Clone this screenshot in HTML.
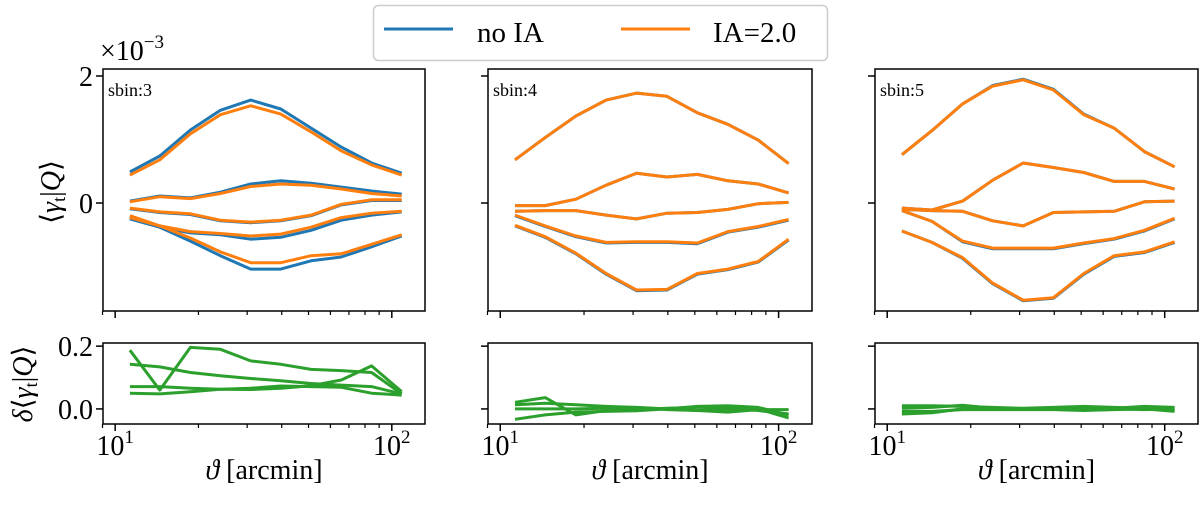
<!DOCTYPE html>
<html><head><meta charset="utf-8"><style>
html,body{margin:0;padding:0;background:#fff;}
svg{display:block;font-family:"Liberation Serif",serif;}
</style></head><body>
<svg id="fig" width="1200" height="513" viewBox="0 0 1200 513" xmlns="http://www.w3.org/2000/svg">
<g id="legend">
<rect x="373.5" y="5.5" width="454" height="55" rx="5" fill="#fff" stroke="#ccc" stroke-width="1.5"/>
<line x1="384" y1="29" x2="453" y2="29" stroke="#1f77b4" stroke-width="3"/>
<text x="477" y="42" font-size="29">no IA</text>
<line x1="621" y1="29" x2="690" y2="29" stroke="#ff7f0e" stroke-width="3"/>
<text x="713" y="42" font-size="29">IA=2.0</text>
</g>
<text x="100" y="60" font-size="28">×10<tspan dy="-12" font-size="19">−3</tspan></text>
<text transform="translate(60,192) rotate(-90)" text-anchor="middle" font-size="28">⟨<tspan font-style="italic">γ</tspan><tspan font-size="18" dy="5">t</tspan><tspan dy="-5">|</tspan><tspan font-style="italic">Q</tspan>⟩</text>
<text transform="translate(32,384) rotate(-90)" text-anchor="middle" font-size="28"><tspan font-style="italic">δ</tspan>⟨<tspan font-style="italic">γ</tspan><tspan font-size="18" dy="5">t</tspan><tspan dy="-5">|</tspan><tspan font-style="italic">Q</tspan>⟩</text>
</svg>
<script>
const thetas = [11.3,14.5,18.7,24.0,30.9,39.7,51.1,65.7,84.5,108.6];
const binLabels = ["sbin:3","sbin:4","sbin:5"];
const mainTicks = [2,0];
const mainTickLabels = ["2","0"];
const ratioTicks = [0.2,0.0];
const ratioTickLabels = ["0.2","0.0"];
// sbin 3 (units 1e-3)
const noIA3 = [
 [0.49,0.74,1.15,1.46,1.62,1.48,1.18,0.88,0.63,0.47],
 [0.03,0.11,0.08,0.17,0.30,0.35,0.31,0.25,0.19,0.14],
 [-0.09,-0.15,-0.18,-0.28,-0.31,-0.28,-0.20,-0.03,0.04,0.04],
 [-0.22,-0.38,-0.47,-0.50,-0.57,-0.54,-0.43,-0.27,-0.19,-0.14],
 [-0.25,-0.38,-0.60,-0.83,-1.04,-1.04,-0.91,-0.85,-0.69,-0.52]];
const ia3 = [
 [0.44,0.68,1.09,1.39,1.53,1.40,1.12,0.82,0.60,0.44],
 [0.02,0.10,0.07,0.15,0.26,0.30,0.28,0.22,0.15,0.11],
 [-0.08,-0.14,-0.17,-0.27,-0.30,-0.27,-0.19,-0.02,0.05,0.05],
 [-0.20,-0.36,-0.45,-0.48,-0.52,-0.49,-0.38,-0.23,-0.16,-0.13],
 [-0.23,-0.36,-0.55,-0.77,-0.94,-0.94,-0.83,-0.80,-0.65,-0.50]];
const noIA4 = [
 [0.68,1.03,1.37,1.62,1.73,1.68,1.42,1.24,0.99,0.62],
 [-0.04,-0.04,0.06,0.28,0.47,0.41,0.45,0.35,0.30,0.16],
 [-0.13,-0.12,-0.12,-0.19,-0.25,-0.16,-0.15,-0.10,-0.01,0.01],
 [-0.20,-0.37,-0.53,-0.63,-0.62,-0.62,-0.64,-0.46,-0.38,-0.27],
 [-0.36,-0.54,-0.80,-1.12,-1.38,-1.37,-1.12,-1.05,-0.93,-0.58]];
const ia4 = [
 [0.68,1.03,1.37,1.62,1.73,1.68,1.42,1.24,0.99,0.62],
 [-0.04,-0.04,0.06,0.28,0.47,0.41,0.45,0.35,0.30,0.16],
 [-0.13,-0.12,-0.12,-0.19,-0.25,-0.16,-0.15,-0.10,-0.01,0.01],
 [-0.19,-0.36,-0.52,-0.62,-0.61,-0.61,-0.63,-0.45,-0.37,-0.26],
 [-0.35,-0.53,-0.79,-1.11,-1.37,-1.36,-1.11,-1.04,-0.92,-0.57]];
const noIA5 = [
 [0.76,1.14,1.56,1.85,1.95,1.79,1.40,1.18,0.81,0.57],
 [-0.08,-0.11,0.03,0.36,0.63,0.56,0.48,0.34,0.34,0.22],
 [-0.10,-0.12,-0.13,-0.28,-0.36,-0.15,-0.14,-0.13,0.02,0.03],
 [-0.12,-0.29,-0.61,-0.72,-0.72,-0.72,-0.64,-0.57,-0.44,-0.25],
 [-0.44,-0.62,-0.87,-1.27,-1.54,-1.50,-1.12,-0.84,-0.78,-0.62]];
const ia5 = [
 [0.76,1.14,1.56,1.84,1.94,1.78,1.39,1.18,0.81,0.57],
 [-0.08,-0.11,0.03,0.36,0.63,0.56,0.48,0.34,0.34,0.22],
 [-0.10,-0.12,-0.13,-0.28,-0.36,-0.15,-0.14,-0.13,0.02,0.03],
 [-0.12,-0.29,-0.60,-0.71,-0.71,-0.71,-0.63,-0.56,-0.43,-0.24],
 [-0.44,-0.62,-0.86,-1.26,-1.53,-1.49,-1.11,-0.83,-0.77,-0.61]];
const ratio3 = [
 [0.187,0.06,0.196,0.19,0.153,0.142,0.126,0.122,0.116,0.048],
 [0.142,0.134,0.116,0.106,0.097,0.09,0.081,0.076,0.071,0.048],
 [0.071,0.071,0.066,0.063,0.062,0.066,0.074,0.092,0.137,0.055],
 [0.05,0.048,0.055,0.063,0.066,0.073,0.071,0.069,0.05,0.044]];
const ratio4 = [
 [0.021,0.036,-0.019,-0.005,-0.002,0.002,0.005,0.005,0,-0.029],
 [0.013,0.018,0.013,0.008,0.005,0,-0.005,-0.01,-0.002,-0.002],
 [0,0,0,0.002,0.005,-0.002,-0.005,0,-0.005,-0.016],
 [-0.033,-0.019,-0.01,-0.008,-0.006,0,0.008,0.01,0.005,-0.019]];
const ratio5 = [
 [0.01,0.01,0.008,0.005,0.002,0.005,0.008,0.005,0.002,-0.002],
 [0.002,0.005,0.012,0.002,0,0,0,0.002,0.008,0.005],
 [-0.008,-0.008,-0.002,-0.002,-0.002,-0.002,-0.005,-0.002,0,-0.008],
 [-0.016,-0.012,0,0,0,0.002,0.004,0,-0.002,0]];

const NS="http://www.w3.org/2000/svg";
const svg=document.getElementById('fig');
function mk(tag,attrs,parent){const e=document.createElementNS(NS,tag);for(const k in attrs)e.setAttribute(k,attrs[k]);(parent||svg).appendChild(e);return e;}
const panelX=[[103,425],[488,812],[875,1198]];
const mainY=[69,311], ratioY=[343,424];
const LX0=0.956, LX1=2.12;
const mainDom=[-1.70,2.11], ratioDom=[-0.048,0.21];
const noIA=[noIA3,noIA4,noIA5], ia=[ia3,ia4,ia5], ratios=[ratio3,ratio4,ratio5];
function xs(p,v){const [a,b]=panelX[p];return a+(Math.log10(v)-LX0)/(LX1-LX0)*(b-a);}
function ys(rng,dom,v){return rng[1]-(v-dom[0])/(dom[1]-dom[0])*(rng[1]-rng[0]);}
function drawLine(g,p,rng,dom,vals,color,w){
  const pts=vals.map((v,i)=>xs(p,thetas[i]).toFixed(1)+','+ys(rng,dom,v).toFixed(1)).join(' ');
  return mk('polyline',{points:pts,fill:'none',stroke:color,'stroke-width':w,'stroke-linejoin':'round'},g);
}
function axes(p,rng,dom,ticks,labels,showX,name){
  const g=mk('g',{});
  
  
  const [a,b]=panelX[p];
  mk('rect',{x:a,y:rng[0],width:b-a,height:rng[1]-rng[0],fill:'none',stroke:'#000','stroke-width':1.5},g);
  const minors=[9,20,30,40,50,60,70,80,90];
  minors.forEach(v=>{const x=xs(p,v);mk('line',{x1:x,y1:rng[1],x2:x,y2:rng[1]+4,stroke:'#000','stroke-width':1.2},g);});
  [10,100].forEach((v,i)=>{const x=xs(p,v);mk('line',{x1:x,y1:rng[1],x2:x,y2:rng[1]+7,stroke:'#000','stroke-width':1.5},g);
    if(showX){const t=mk('text',{x:x,y:rng[1]+31,'text-anchor':'middle','font-size':28},g);t.textContent='10';const s=mk('tspan',{dy:-12,'font-size':19},t);s.textContent=String(i+1);
      }});
  ticks.forEach((v,i)=>{const y=ys(rng,dom,v);mk('line',{x1:a-7,y1:y,x2:a,y2:y,stroke:'#000','stroke-width':1.5},g);
    if(p===0){const t=mk('text',{x:a-10,y:y+10,'text-anchor':'end','font-size':28},g);t.textContent=labels[i];
      }});
  return g;
}
for(let p=0;p<3;p++){
  const g=mk('g',{});
  
  
  for(let k=0;k<5;k++){
    const l=drawLine(g,p,mainY,mainDom,noIA[p][k],'#1f77b4',3);
    
    
  }
  for(let k=0;k<5;k++){
    const l=drawLine(g,p,mainY,mainDom,ia[p][k],'#ff7f0e',3);
    
    
  }
  for(let k=0;k<4;k++){
    const l=drawLine(g,p,ratioY,ratioDom,ratios[p][k],'#2ca02c',3);
    
    
  }
  axes(p,mainY,mainDom,mainTicks,mainTickLabels,false,'main-'+(p+3));
  axes(p,ratioY,ratioDom,ratioTicks,ratioTickLabels,true,'ratio-'+(p+3));
  const bl=mk('text',{x:panelX[p][0]+5,y:96,'font-size':18});
  bl.textContent=binLabels[p];
  
  
  const xl=mk('text',{x:(panelX[p][0]+panelX[p][1])/2,y:479,'text-anchor':'middle','font-size':28});
  xl.innerHTML='<tspan font-style="italic">ϑ</tspan> [arcmin]';
  
  
}
</script>
</body></html>
